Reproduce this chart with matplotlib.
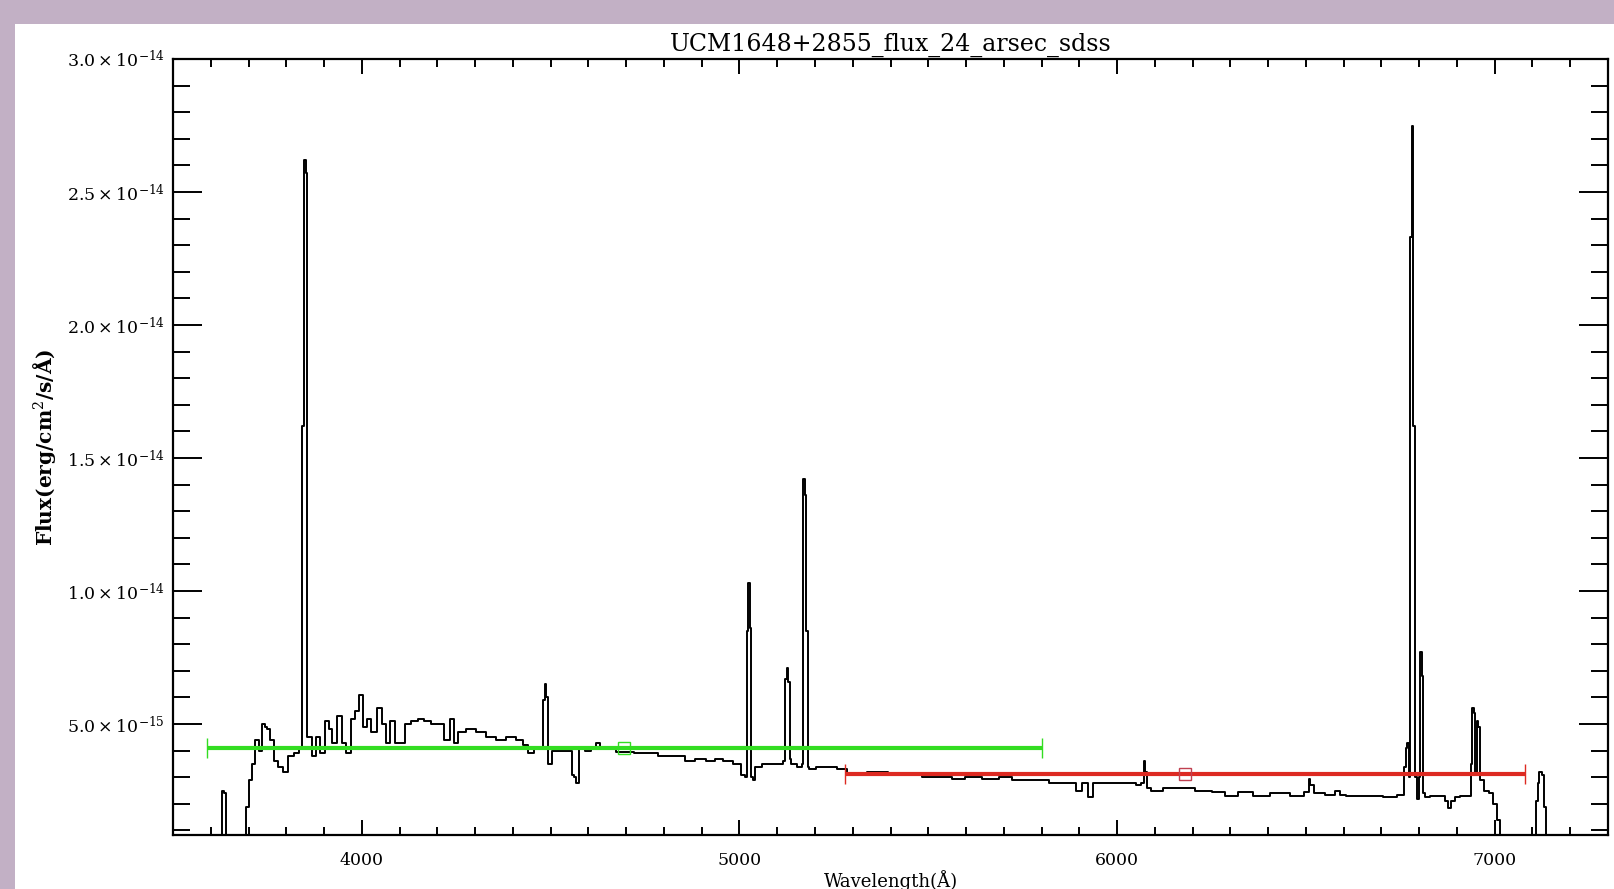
import numpy as np
import matplotlib.pyplot as plt
from matplotlib.patches import Rectangle
from matplotlib.ticker import MultipleLocator, FixedLocator

plt.rcParams['font.family'] = 'DejaVu Serif'
plt.rcParams['mathtext.fontset'] = 'dejavuserif'

# spectrum (wavelength in A, flux in 1e-15 erg/cm2/s/A)
lam = [3620, 3628, 3632, 3638, 3643, 3688, 3696, 3704, 3712, 3722, 3731, 3739, 3746, 3752,
       3762, 3771, 3784, 3797, 3811, 3829, 3840, 3845, 3849, 3853, 3857, 3864, 3872, 3885,
       3895, 3908, 3917, 3925, 3941, 3952, 3965, 3978, 3988, 3997, 4010, 4018, 4031, 4047,
       4058, 4068, 4079, 4095, 4108, 4121, 4140, 4156, 4175, 4190, 4209, 4227, 4241, 4249,
       4262, 4288, 4315, 4342, 4368, 4395, 4421, 4434, 4448, 4466, 4478, 4482, 4486, 4490,
       4496, 4509, 4530, 4554, 4559, 4565, 4572, 4580, 4600, 4615, 4623, 4640, 4660, 4687,
       4710, 4732, 4755, 4774, 4795, 4811, 4846, 4864, 4899, 4926, 4944, 4971, 4997, 5013,
       5017, 5021, 5025, 5029, 5033, 5037, 5045, 5077, 5111, 5119, 5123, 5127, 5131, 5135,
       5140, 5164, 5168, 5171, 5175, 5179, 5183, 5186, 5218, 5244, 5271, 5297, 5324, 5350,
       5377, 5411, 5440, 5464, 5502, 5544, 5581, 5616, 5669, 5704, 5740, 5794, 5847, 5881,
       5900, 5916, 5929, 5942, 5987, 6040, 6059, 6068, 6072, 6076, 6085, 6094, 6147, 6181,
       6234, 6271, 6298, 6340, 6378, 6431, 6484, 6505, 6510, 6514, 6527, 6572, 6580, 6598,
       6617, 6650, 6686, 6723, 6757, 6762, 6766, 6770, 6774, 6778, 6782, 6786, 6790, 6797,
       6801, 6805, 6809, 6813, 6818, 6840, 6863, 6872, 6881, 6890, 6898, 6920, 6934, 6938,
       6942, 6946, 6951, 6955, 6959, 6964, 6977, 6991, 7001, 7009, 7017, 7108, 7111, 7116,
       7121, 7129, 7133, 7137, 7300]
flux = [0.0, 0.0, 2.5, 2.4, 0.0, 0.0, 1.9, 2.9, 3.5, 4.4, 4.0, 5.0, 4.9, 4.8,
        4.4, 3.6, 3.4, 3.2, 3.8, 3.9, 4.1, 16.2, 26.2, 25.7, 4.5, 4.5, 3.8, 4.5,
        3.9, 5.1, 4.8, 4.3, 5.3, 4.3, 3.9, 5.2, 5.5, 6.1, 4.9, 5.2, 4.7, 5.6,
        5.0, 4.3, 5.1, 4.3, 4.3, 5.0, 5.1, 5.2, 5.1, 5.0, 5.0, 4.4, 5.2, 4.3,
        4.7, 4.8, 4.7, 4.5, 4.4, 4.5, 4.4, 4.2, 3.9, 4.1, 4.1, 5.9, 6.5, 6.0,
        3.5, 4.0, 4.0, 4.0, 3.1, 3.0, 2.8, 4.1, 4.0, 4.1, 4.3, 4.1, 4.1, 3.95,
        3.95, 3.9, 3.9, 3.9, 3.8, 3.8, 3.8, 3.6, 3.7, 3.6, 3.7, 3.6, 3.5, 3.1,
        3.0, 8.5, 10.3, 8.6, 3.0, 2.9, 3.4, 3.5, 3.5, 3.6, 6.7, 7.1, 6.6, 3.7,
        3.5, 3.4, 3.5, 14.2, 13.6, 8.5, 3.4, 3.3, 3.4, 3.4, 3.3, 3.15, 3.1, 3.2,
        3.2, 3.1, 3.1, 3.15, 3.0, 3.0, 2.95, 3.0, 2.95, 3.0, 2.9, 2.9, 2.8, 2.8,
        2.5, 2.8, 2.25, 2.8, 2.8, 2.8, 2.7, 2.8, 3.6, 3.2, 2.6, 2.5, 2.6, 2.6,
        2.5, 2.45, 2.3, 2.45, 2.3, 2.4, 2.3, 2.45, 2.95, 2.7, 2.4, 2.35, 2.5, 2.35,
        2.3, 2.3, 2.3, 2.25, 2.35, 3.4, 4.1, 4.3, 3.0, 23.3, 27.5, 16.2, 3.0, 2.2,
        3.0, 7.7, 6.8, 2.4, 2.25, 2.3, 2.3, 2.1, 1.85, 2.1, 2.25, 2.3, 2.3, 3.5,
        5.6, 5.4, 3.2, 5.1, 4.9, 2.9, 2.5, 2.4, 2.0, 1.4, 0.0, 0.0, 2.1, 2.8,
        3.2, 3.1, 1.9, 0.0, 0.0]

# two band averages with their wavelength ranges
green_lam, green_lo, green_hi, green_flux = 4695, 3590, 5800, 4.1e-15
red_lam, red_lo, red_hi, red_flux = 6180, 5280, 7080, 3.12e-15

yticks = [5e-15, 1e-14, 1.5e-14, 2e-14, 2.5e-14, 3e-14]
ylabels = [r'$5.0\times10^{-15}$', r'$1.0\times10^{-14}$', r'$1.5\times10^{-14}$',
           r'$2.0\times10^{-14}$', r'$2.5\times10^{-14}$', r'$3.0\times10^{-14}$']

fig = plt.figure(figsize=(16.15, 8.89), dpi=100, facecolor='#c2b0c5')
fig.patches.append(Rectangle((15 / 1615, 0), 1 - 15 / 1615, 865 / 889,
                             transform=fig.transFigure, facecolor='white',
                             edgecolor='none', zorder=-1))
ax = fig.add_axes([173 / 1615, 54 / 889, 1435 / 1615, 776 / 889])

ax.plot(lam, np.array(flux) * 1e-15, color='black', lw=1.4, drawstyle='steps-mid')

ax.errorbar([green_lam], [green_flux], xerr=[[green_lam - green_lo], [green_hi - green_lam]],
            fmt='s', color='#33dd22', ecolor='#33dd22', elinewidth=3, capsize=7, capthick=2,
            markersize=9, markerfacecolor='none', markeredgewidth=1)
ax.errorbar([red_lam], [red_flux], xerr=[[red_lam - red_lo], [red_hi - red_lam]],
            fmt='s', color='#dd2a22', ecolor='#dd2a22', elinewidth=3, capsize=7, capthick=2,
            markersize=9, markerfacecolor='none', markeredgecolor='#c04050', markeredgewidth=1)

ax.set_xlim(3500, 7300)
ax.set_ylim(0.83e-15, 3.0e-14)
ax.xaxis.set_major_locator(FixedLocator([4000, 5000, 6000, 7000]))
ax.xaxis.set_minor_locator(MultipleLocator(100))
ax.yaxis.set_major_locator(FixedLocator(yticks))
ax.set_yticklabels(ylabels)
ax.yaxis.set_minor_locator(MultipleLocator(1e-15))

ax.tick_params(axis='both', which='both', direction='in', top=True, right=True,
               width=1.4, colors='black')
ax.tick_params(axis='y', which='major', length=21, pad=6, labelsize=12.5)
ax.tick_params(axis='y', which='minor', length=12)
ax.tick_params(axis='x', which='major', length=11, pad=12, labelsize=12.5)
ax.tick_params(axis='x', which='minor', length=5.5)
for s in ax.spines.values():
    s.set_linewidth(1.6)

ax.set_title('UCM1648+2855_flux_24_arsec_sdss', fontsize=17, pad=6)
ax.set_xlabel('Wavelength(Å)', fontsize=13, labelpad=1)
ax.set_ylabel('Flux(erg/cm$^2$/s/Å)', fontsize=14.5, fontweight='bold', labelpad=6)

fig.savefig('out.png', dpi=100, facecolor=fig.get_facecolor())
